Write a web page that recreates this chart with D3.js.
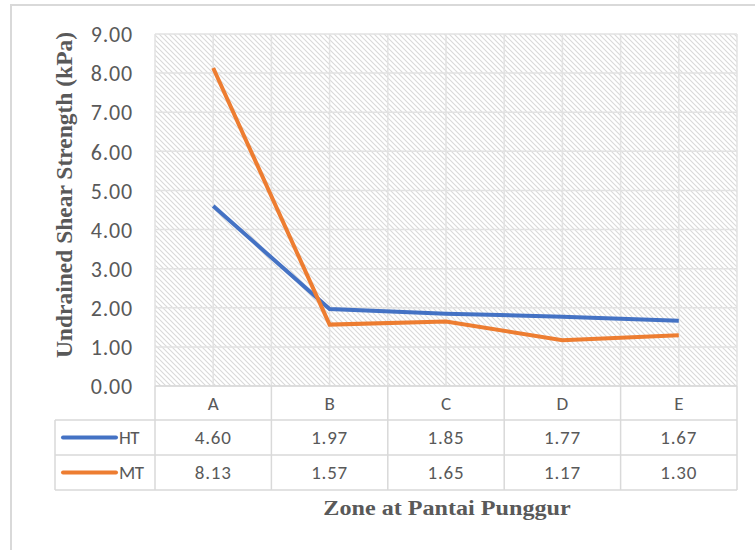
<!DOCTYPE html>
<html><head><meta charset="utf-8">
<script src="https://cdn.jsdelivr.net/npm/d3@7"></script>
<style>body{margin:0;background:#fff}svg{display:block}</style>
</head><body>
<svg id="c" width="755" height="550"></svg>
<script>
const categories = ["A","B","C","D","E"];
const seriesNames = ["HT","MT"];
const htValues = [4.60,1.97,1.85,1.77,1.67];
const mtValues = [8.13,1.57,1.65,1.17,1.30];
const yTicks = [0,1,2,3,4,5,6,7,8,9];
const colors = ["#4472C4","#ED7D31"];
const series = [htValues, mtValues];

const svg = d3.select("#c");
const M = {l:155, r:737, t:34, b:386};
const x = d3.scaleBand().domain(categories).range([M.l, M.r]).padding(0);
const y = d3.scaleLinear().domain([0,9]).range([M.b, M.t]);
const grid = "#d9d9d9", txt = "#595959";
const tf = "Carlito, 'Liberation Sans', sans-serif";

// outer border
svg.append("rect").attr("x",11).attr("y",5).attr("width",800).attr("height",600)
  .attr("fill","#fff").attr("stroke",grid).attr("stroke-width",2);

// hatch pattern
const defs = svg.append("defs");
const pat = defs.append("pattern").attr("id","hatch").attr("patternUnits","userSpaceOnUse")
  .attr("width",5).attr("height",5);
pat.append("rect").attr("width",5).attr("height",5).attr("fill","#fff");
pat.append("path").attr("d","M-1,-1 L6,6 M-1,4 L1,6 M4,-1 L6,1").attr("stroke","#d9d9d9").attr("stroke-width",1.1);
svg.append("rect").attr("x",M.l).attr("y",M.t).attr("width",M.r-M.l).attr("height",M.b-M.t)
  .attr("fill","url(#hatch)");

// horizontal gridlines
svg.append("g").selectAll("line").data(yTicks).join("line")
  .attr("x1",M.l).attr("x2",M.r).attr("y1",d=>y(d)).attr("y2",d=>y(d))
  .attr("stroke","#e2e2e2").attr("stroke-width",1.5);
// vertical gridlines: boundaries and centers
const vlines = [];
categories.forEach(c=>{vlines.push(x(c)); vlines.push(x(c)+x.bandwidth()/2);});
vlines.push(M.r);
svg.append("g").selectAll("line").data(vlines).join("line")
  .attr("x1",d=>d).attr("x2",d=>d).attr("y1",M.t).attr("y2",M.b)
  .attr("stroke","#e2e2e2").attr("stroke-width",1.5);

// y axis labels
const yAxis = d3.axisLeft(y).tickValues(yTicks).tickFormat(d3.format(".2f")).tickSize(0).tickPadding(0);
const ga = svg.append("g").attr("transform",`translate(${M.l-22},0)`).call(yAxis);
ga.select(".domain").remove();
ga.selectAll("text").attr("font-family",tf).attr("font-size",22).attr("letter-spacing",0.8)
  .attr("fill",txt).attr("dy","0.35em");

// lines
const line = d3.line().x((d,i)=>x(categories[i])+x.bandwidth()/2).y(d=>y(d));
series.forEach((s,k)=>{
  svg.append("path").datum(s).attr("d",line).attr("fill","none")
    .attr("stroke",colors[k]).attr("stroke-width",4).attr("stroke-linejoin","miter");
});

// data table
const rowH = [M.b, 420, 455, 490];
const tbl = svg.append("g").attr("stroke",grid).attr("stroke-width",1.5);
tbl.append("line").attr("x1",M.l).attr("x2",M.r).attr("y1",rowH[0]).attr("y2",rowH[0]);
[1,2,3].forEach(i=>tbl.append("line").attr("x1",55).attr("x2",M.r).attr("y1",rowH[i]).attr("y2",rowH[i]));
tbl.append("line").attr("x1",55).attr("x2",55).attr("y1",rowH[1]).attr("y2",rowH[3]);
categories.forEach(c=>tbl.append("line").attr("x1",x(c)).attr("x2",x(c)).attr("y1",rowH[0]).attr("y2",rowH[3]));
tbl.append("line").attr("x1",M.r).attr("x2",M.r).attr("y1",rowH[0]).attr("y2",rowH[3]);

svg.append("g").selectAll("text").data(categories).join("text")
  .attr("x",d=>x(d)+x.bandwidth()/2).attr("y",(rowH[0]+rowH[1])/2).attr("dy","0.35em")
  .attr("text-anchor","middle").attr("font-family",tf).attr("font-size",19).attr("fill",txt).text(d=>d);
series.forEach((s,k)=>{
  const cy = (rowH[k+1]+rowH[k+2])/2;
  svg.append("g").selectAll("text").data(s).join("text")
    .attr("x",(d,i)=>x(categories[i])+x.bandwidth()/2).attr("y",cy).attr("dy","0.35em")
    .attr("text-anchor","middle").attr("font-family",tf).attr("font-size",19).attr("letter-spacing",0.8)
    .attr("fill",txt).text(d=>d3.format(".2f")(d));
  svg.append("line").attr("x1",63).attr("x2",116).attr("y1",cy).attr("y2",cy)
    .attr("stroke",colors[k]).attr("stroke-width",4).attr("stroke-linecap","round");
  svg.append("text").attr("x",119).attr("y",cy).attr("dy","0.35em")
    .attr("font-family",tf).attr("font-size",19).attr("fill",txt).attr("letter-spacing",-0.5).text(seriesNames[k]);
});

// axis titles
svg.append("text").attr("transform",`translate(72,195) rotate(-90)`)
  .attr("text-anchor","middle").attr("font-family","'Liberation Serif', serif").attr("font-weight","bold")
  .attr("font-size",23.5).attr("fill",txt).text("Undrained Shear Strength (kPa)");
svg.append("text").attr("transform","translate(447,515) scale(1.15,1)").attr("text-anchor","middle")
  .attr("font-family","'Liberation Serif', serif").attr("font-weight","bold")
  .attr("font-size",21).attr("fill",txt).text("Zone at Pantai Punggur");
</script>
</body></html>
